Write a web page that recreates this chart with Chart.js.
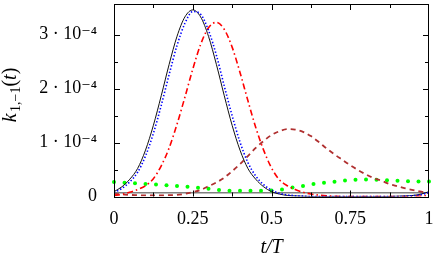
<!DOCTYPE html>
<html>
<head>
<meta charset="utf-8">
<script src="https://cdn.jsdelivr.net/npm/chart.js@4"></script>
<style>
  html, body { margin:0; padding:0; background:#fff; }
  #wrap { width:436px; height:261px; position:relative; }
</style>
</head>
<body>
<div id="wrap"><canvas id="c" width="436" height="261"></canvas></div>
<script>
// ---- data (values in units of 1e-4) ----
const tGrid = [0,0.025,0.05,0.075,0.1,0.125,0.15,0.175,0.2,0.225,0.25,0.275,0.3,0.325,0.35,0.375,0.4,0.425,0.45,0.475,0.5,0.525,0.55,0.575,0.6,0.625,0.65,0.675,0.7,0.725,0.75,0.775,0.8,0.825,0.85,0.875,0.9,0.925,0.95,0.975,1];
const solidVals = [0.09,0.18,0.32,0.52,0.86,1.32,1.87,2.45,2.97,3.33,3.46,3.33,2.97,2.45,1.87,1.32,0.86,0.52,0.32,0.18,0.09,0.045,0.02,0.01,0.005,0,0,0,0,0,0,0,0,0,0,0,0.005,0.01,0.02,0.045,0.09];
const dottedVals = [0.075,0.15,0.27,0.45,0.75,1.17,1.69,2.26,2.80,3.21,3.43,3.38,3.08,2.62,2.05,1.50,1.01,0.63,0.38,0.22,0.12,0.06,0.03,0.015,0.007,0,0,0,0,0,0,0,0,0,0,0,0,0.007,0.015,0.035,0.075];
const dashDotVals = [0.02,0.04,0.08,0.13,0.2,0.33,0.57,0.90,1.34,1.84,2.36,2.82,3.13,3.23,3.10,2.77,2.30,1.78,1.28,0.86,0.53,0.31,0.2,0.13,0.08,0.045,0.025,0.012,0.005,0,0,0,0,0,0,0,0,0,0.005,0.01,0.02];
const dashedVals = [0.05,0.04,0.03,0.025,0.02,0.02,0.02,0.025,0.03,0.05,0.08,0.12,0.19,0.26,0.35,0.47,0.6,0.75,0.9,1.03,1.14,1.21,1.25,1.24,1.2,1.12,1.01,0.89,0.78,0.68,0.58,0.49,0.41,0.34,0.29,0.23,0.19,0.15,0.12,0.09,0.06];
const tDots = [0,1/30,2/30,3/30,4/30,5/30,6/30,7/30,8/30,9/30,10/30,11/30,12/30,13/30,14/30,15/30,16/30,17/30,18/30,19/30,20/30,21/30,22/30,23/30,24/30,25/30,26/30,27/30,28/30,29/30,1];
const dotVals = [0.267,0.256,0.245,0.234,0.223,0.21,0.195,0.18,0.162,0.143,0.12,0.108,0.105,0.105,0.107,0.112,0.132,0.165,0.193,0.23,0.254,0.272,0.298,0.309,0.313,0.31,0.303,0.293,0.285,0.28,0.278];
const tBase = [0,1];
const baseVals = [0.07,0.07];
const xTickLabels = {0:'0',0.25:'0.25',0.5:'0.5',0.75:'0.75',1:'1'};
const yTickLabels = {0:'0',1:'1 · 10⁻⁴',2:'2 · 10⁻⁴',3:'3 · 10⁻⁴'};
const yTitleParts = ['k', '1,−1', '(', 't', ')'];
const xTitleText = 't/T';

const pts = (xs, ys) => xs.map((x,i)=>({x, y: ys[i]}));

const FONT = "'Liberation Serif', 'DejaVu Serif', serif";

const frame = {
  id:'frame',
  afterDatasetsDraw(chart){
    const {ctx, chartArea:a, scales:{x,y}} = chart;
    ctx.save();
    ctx.strokeStyle = '#000';
    ctx.lineWidth = 1;
    ctx.beginPath();
    x.ticks.forEach(t=>{
      if (t.value<=0 || t.value>=1) return;
      const px = Math.round(x.getPixelForValue(t.value))+0.5;
      const L = (Math.abs(t.value*4 - Math.round(t.value*4))<1e-6) ? 6 : 4;
      ctx.moveTo(px, a.bottom); ctx.lineTo(px, a.bottom-L);
      ctx.moveTo(px, a.top); ctx.lineTo(px, a.top+L);
    });
    y.ticks.forEach(t=>{
      if (t.value<=0 || Math.abs(t.value*2 - Math.round(t.value*2))>1e-6) return;
      const py = Math.round(y.getPixelForValue(t.value))+0.5;
      const L = (Math.abs(t.value - Math.round(t.value))<1e-6) ? 6 : 4;
      ctx.moveTo(a.left, py); ctx.lineTo(a.left+L, py);
      ctx.moveTo(a.right, py); ctx.lineTo(a.right-L, py);
    });
    ctx.stroke();
    ctx.strokeRect(Math.round(a.left)+0.5, Math.round(a.top)+0.5, Math.round(a.right-a.left)-1, Math.round(a.bottom-a.top));
    ctx.restore();
  }
};

// y-axis title with a real subscript, drawn as text
const yTitle = {
  id:'yTitle',
  afterDraw(chart){
    const ctx = chart.ctx;
    ctx.save();
    const fonts = [`italic 20px ${FONT}`, `14px ${FONT}`, `20px ${FONT}`, `italic 20px ${FONT}`, `20px ${FONT}`];
    const dys = [0, 4, 0, 0, 0];
    const gaps = [0, 1.5, 0, 0, 0];
    const widths = yTitleParts.map((s,i)=>{ ctx.font = fonts[i]; return ctx.measureText(s).width + gaps[i]; });
    const total = widths.reduce((a,b)=>a+b,0);
    const cy = 95, bx = 16;
    ctx.translate(bx, cy + total/2);
    ctx.rotate(-Math.PI/2);
    ctx.fillStyle = '#000';
    ctx.textBaseline = 'alphabetic';
    ctx.textAlign = 'left';
    let xx = 0;
    yTitleParts.forEach((s,i)=>{ ctx.font = fonts[i]; ctx.fillText(s, xx + gaps[i], dys[i]); xx += widths[i]; });
    ctx.restore();
  }
};

function noPad(s){ s.paddingTop = 0; s.paddingBottom = 0; s.paddingLeft = 0; s.paddingRight = 0; }

new Chart(document.getElementById('c'), {
  type:'line',
  data:{
    datasets:[
      {data: pts(tGrid, dottedVals), borderColor:'#0000ff', borderWidth:1.6, borderDash:[1.4,2], pointRadius:0, cubicInterpolationMode:'monotone', order:1},
      {data: pts(tGrid, solidVals), borderColor:'#111', borderWidth:1, pointRadius:0, cubicInterpolationMode:'monotone', order:2},
      {data: pts(tGrid, dashDotVals), borderColor:'#ff0000', borderWidth:1.6, borderDash:[6,3,1.5,3], pointRadius:0, cubicInterpolationMode:'monotone', order:3},
      {data: pts(tGrid, dashedVals), borderColor:'#b03030', borderWidth:1.8, borderDash:[5,4], pointRadius:0, cubicInterpolationMode:'monotone', order:4},
      {data: pts(tDots, dotVals), showLine:false, pointRadius:2, pointBorderWidth:0, pointBackgroundColor:'#00ff00', pointBorderColor:'#00ff00', clip:false, order:5},
      {data: pts(tBase, baseVals), borderColor:'#808080', borderWidth:1.5, pointRadius:0, order:6}
    ]
  },
  options:{
    responsive:false,
    animation:false,
    layout:{padding:{top:2, right:7, left:0, bottom:0}},
    plugins:{legend:{display:false}, tooltip:{enabled:false}},
    scales:{
      x:{
        type:'linear', min:0, max:1,
        grid:{display:false, drawTicks:false},
        border:{display:false},
        ticks:{stepSize:0.125, padding:12, autoSkip:false, maxRotation:0, color:'#000',
               font:{family:FONT, size:18},
               callback:(v)=> xTickLabels[v] !== undefined ? xTickLabels[v] : ''},
        title:{display:true, text:xTitleText, color:'#000', font:{family:FONT, size:20, style:'italic'}, padding:{top:0,bottom:1}},
        afterFit(s){ s.height = 64.5; noPad(s); }
      },
      y:{
        type:'linear', min:0, max:3.57,
        grid:{display:false, drawTicks:false},
        border:{display:false},
        ticks:{stepSize:0.5, padding:17, autoSkip:false, color:'#000',
               font:{family:FONT, size:18},
               callback:(v)=> yTickLabels[v] !== undefined ? yTickLabels[v] : ''},
        title:{display:false},
        afterFit(s){ s.width = 114; noPad(s); }
      }
    }
  },
  plugins:[frame, yTitle]
});
</script>
</body>
</html>
